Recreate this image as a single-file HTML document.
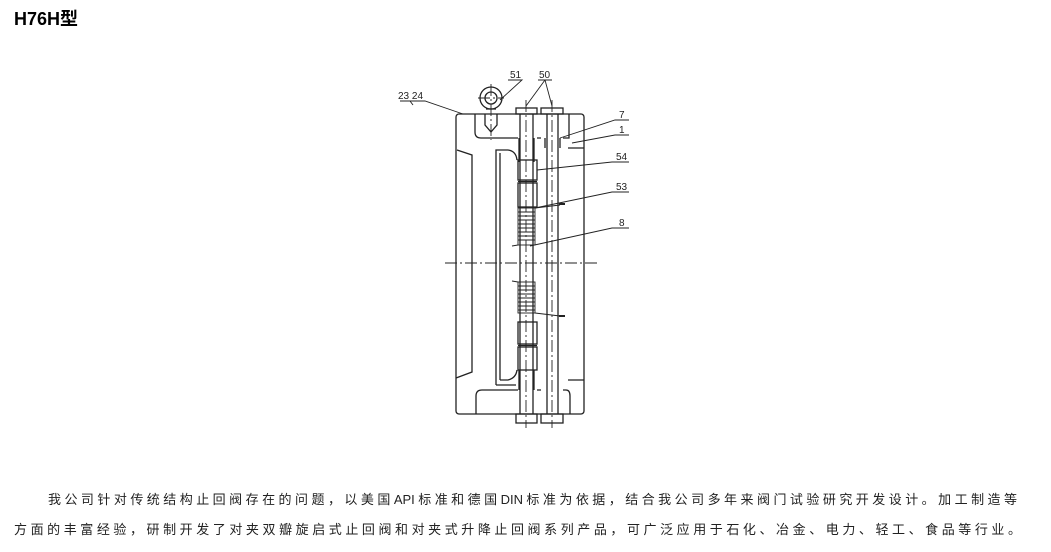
<!DOCTYPE html>
<html><head><meta charset="utf-8"><style>
body{margin:0;width:1051px;height:552px;background:#fff;position:relative;overflow:hidden;font-family:"Liberation Sans","Noto Sans CJK SC",sans-serif;}
.t{position:absolute;left:14px;top:5px;font-size:18px;font-weight:bold;color:#000;}
.p{position:absolute;font-size:13px;color:#222;white-space:nowrap;text-align:justify;text-align-last:justify;}
svg{position:absolute;left:0;top:0}
</style></head><body>
<div class="t">H76H型</div>
<svg width="1051" height="552" viewBox="0 0 1051 552" fill="none" stroke="#222" stroke-width="1.3" font-family="Liberation Sans, sans-serif" font-size="10">
<rect x="456" y="114" width="128" height="300" rx="3"/>
<path d="M457 150 L472 155 L472 372 L456 378"/>
<path d="M475 114 V132 Q475 138 481 138 H518"/>
<path d="M537 138 H541 M563 138 H569 V114"/>
<path d="M476 414 V396 Q476 390 482 390 H518 M537 390 H541 M563 390 H566 Q570 390 570 396 V414"/>
<path d="M496 385 V150 H508 Q516 151 517 160"/>
<path d="M500 380 V153"/>
<path d="M496 385 H516"/>
<path d="M500 380 H508 Q516 378 517 370"/>
<path d="M584 148 H568 M584 380 H568"/>
<path d="M519 138 V162 M534 138 V162 M519 370 V390 M534 370 V390"/>
<path d="M520 114 V414 M533 114 V414"/>
<rect x="518" y="160" width="19" height="20"/><rect x="518" y="183" width="19" height="24"/>
<rect x="518" y="322" width="19" height="22"/><rect x="518" y="347" width="19" height="23"/>
<path d="M518 181.5 H537 M518 345.5 H537"/>
<g stroke-width="0.9">
<rect x="518" y="208" width="17" height="37"/><rect x="518" y="282" width="17" height="31"/>
<path d="M518 212 H535 M518 216 H535 M518 220 H535 M518 224 H535 M518 228 H535 M518 232 H535 M518 236 H535 M518 240 H535"/>
<path d="M518 286 H535 M518 290 H535 M518 294 H535 M518 298 H535 M518 302 H535 M518 306 H535 M518 310 H535"/>
<path d="M535 208 L560 205 M518 245 L512 246 M535 313 L560 316 M518 282 L512 281"/>
<path d="M559 204 H565 M559 316 H565" stroke-width="2"/>
</g>
<path d="M547 114 V414 M558 114 V414"/>
<path d="M545 138 V148 M560 138 V148"/>
<rect x="516" y="108" width="21" height="6"/><rect x="541" y="108" width="22" height="6"/>
<rect x="516" y="414" width="21" height="9"/><rect x="541" y="414" width="22" height="9"/>
<circle cx="491" cy="98" r="11"/><circle cx="491" cy="98" r="6"/>
<path d="M486 109 H496 M485 114 V125 L491 132 L497 125 V114"/>
<g stroke-dasharray="12,3,2,3" stroke-width="0.9">
<path d="M445 263 H598"/>
<path d="M526 100 V428"/><path d="M552 100 V428"/>
<path d="M491 84 V140"/><path d="M478 98 H504"/>
</g>
<g stroke-width="0.9">
<path d="M400 101 H425 L463 114"/><path d="M410 101 L413 105"/>
<path d="M508 80 H522 L500 100"/>
<path d="M538 80 H552 M545 80 L526 106 M545 80 L552 106"/>
<path d="M629 120 H615 L560 138"/>
<path d="M629 135 H615 L572 143"/>
<path d="M629 162 H612 L537 170"/>
<path d="M629 192 H612 L535 208"/>
<path d="M629 228 H612 L530 246"/>
</g>
<g fill="#222" stroke="none">
<text x="398" y="99">23 24</text><text x="510" y="78">51</text><text x="539" y="78">50</text>
<text x="619" y="118">7</text><text x="619" y="133">1</text><text x="616" y="160">54</text>
<text x="616" y="190">53</text><text x="619" y="226">8</text>
</g>
</svg>
<div class="p" style="left:48px;top:489px;width:969px;">我公司针对传统结构止回阀存在的问题，以美国API标准和德国DIN标准为依据，结合我公司多年来阀门试验研究开发设计。加工制造等</div>
<div class="p" style="left:14px;top:519px;width:1007px;">方面的丰富经验，研制开发了对夹双瓣旋启式止回阀和对夹式升降止回阀系列产品，可广泛应用于石化、冶金、电力、轻工、食品等行业。</div>
</body></html>
